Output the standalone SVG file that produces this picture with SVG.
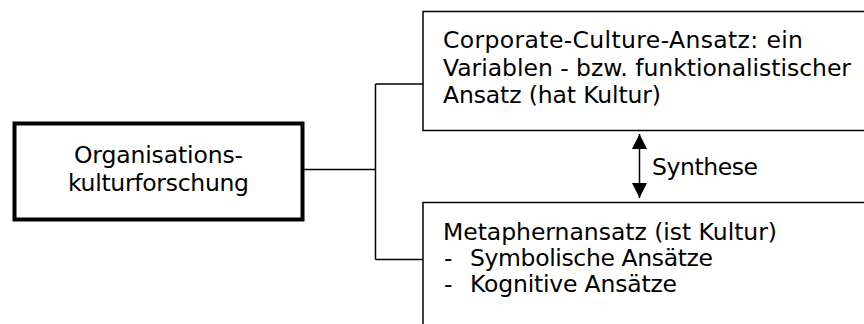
<svg xmlns="http://www.w3.org/2000/svg" width="864" height="324" viewBox="0 0 864 324">
  <defs>
    <marker id="head" viewBox="0 0 15 15" refX="15" refY="7.5" markerWidth="15" markerHeight="15" markerUnits="userSpaceOnUse" orient="auto-start-reverse">
      <path d="M0,0 L15,7.5 L0,15 Z" fill="#000"/>
    </marker>
    <style>
      .t { font-family: "DejaVu Sans", Verdana, sans-serif; font-size: 23.5px; fill: #000; }
      .box { fill: #fff; stroke: #000; stroke-width: 1.5; }
      .main { fill: #fff; stroke: #000; stroke-width: 4; }
      .wire { fill: none; stroke: #000; stroke-width: 1.5; }
    </style>
  </defs>
  <rect width="864" height="324" fill="#fff"/>

  <g id="connectors">
    <path class="wire" d="M304,169.5 H375.5 M375.5,84 V259.5 M375.5,84 H423 M375.5,259.5 H423"/>
  </g>

  <g id="root">
    <rect class="main" x="14.5" y="123.5" width="288" height="96"/>
    <text class="t" x="158.5" y="163" text-anchor="middle" textLength="169">Organisations-</text>
    <text class="t" x="158.5" y="191" text-anchor="middle" textLength="181">kulturforschung</text>
  </g>

  <g id="corporate-culture">
    <rect class="box" x="423" y="11.5" width="460" height="119"/>
    <text class="t" x="443" y="48" textLength="360">Corporate-Culture-Ansatz: ein</text>
    <text class="t" x="443" y="75.5" textLength="408">Variablen - bzw. funktionalistischer</text>
    <text class="t" x="443" y="103" textLength="218">Ansatz (hat Kultur)</text>
  </g>

  <g id="metaphor">
    <rect class="box" x="423" y="202.5" width="460" height="140"/>
    <text class="t" x="443" y="240" textLength="334">Metaphernansatz (ist Kultur)</text>
    <text class="t" x="444" y="266">-</text>
    <text class="t" x="470" y="266" textLength="243">Symbolische Ansätze</text>
    <text class="t" x="444" y="292">-</text>
    <text class="t" x="470" y="292" textLength="207">Kognitive Ansätze</text>
  </g>

  <g id="synthesis">
    <line class="wire" x1="639.5" y1="134" x2="639.5" y2="198" marker-start="url(#head)" marker-end="url(#head)"/>
    <text class="t" x="652" y="175" textLength="106">Synthese</text>
  </g>
</svg>
